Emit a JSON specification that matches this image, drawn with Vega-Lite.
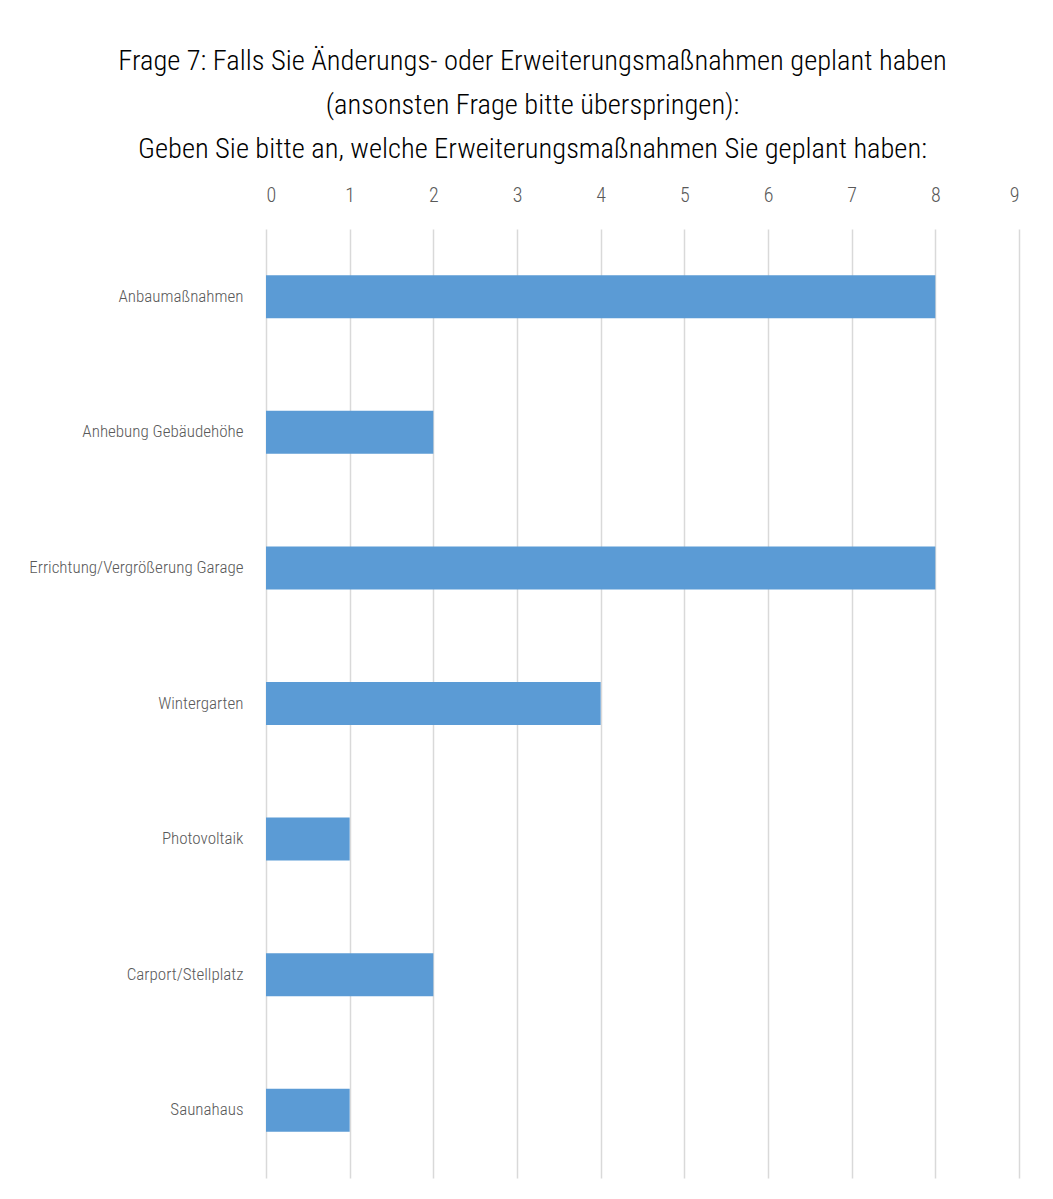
{
  "$schema": "https://vega.github.io/schema/vega-lite/v6.json",
  "autosize": "none",
  "width": 753,
  "height": 949,
  "padding": {"left": 266, "top": 229, "right": 34, "bottom": 21},
  "background": "white",
  "title": {
    "text": ["Frage 7: Falls Sie Änderungs- oder Erweiterungsmaßnahmen geplant haben", "(ansonsten Frage bitte überspringen):", "Geben Sie bitte an, welche Erweiterungsmaßnahmen Sie geplant haben:"],
    "font": "Roboto Condensed, DejaVu Sans Condensed, Liberation Sans Narrow, sans-serif",
    "fontSize": 28.5,
    "fontWeight": 300,
    "color": "#000000",
    "lineHeight": 44,
    "anchor": "middle",
    "dx": -110,
    "offset": 22
  },
  "data": {
    "values": [
      {"massnahme": "Anbaumaßnahmen", "anzahl": 8},
      {"massnahme": "Anhebung Gebäudehöhe", "anzahl": 2},
      {"massnahme": "Errichtung/Vergrößerung Garage", "anzahl": 8},
      {"massnahme": "Wintergarten", "anzahl": 4},
      {"massnahme": "Photovoltaik", "anzahl": 1},
      {"massnahme": "Carport/Stellplatz", "anzahl": 2},
      {"massnahme": "Saunahaus", "anzahl": 1}
    ]
  },
  "mark": {"type": "bar", "color": "#5b9bd5"},
  "encoding": {
    "y": {
      "field": "massnahme",
      "type": "nominal",
      "sort": null,
      "scale": {"paddingInner": 0.683, "paddingOuter": 0.3415},
      "axis": {
        "title": null,
        "ticks": false,
        "domain": false,
        "labelPadding": 23,
        "labelFont": "Roboto Condensed, DejaVu Sans Condensed, Liberation Sans Narrow, sans-serif",
        "labelFontSize": 17,
        "labelFontWeight": 300,
        "labelColor": "#595959",
        "labelLimit": 400
      }
    },
    "x": {
      "field": "anzahl",
      "type": "quantitative",
      "scale": {"domain": [0, 9], "nice": false},
      "axis": {
        "orient": "top",
        "title": null,
        "values": [0, 1, 2, 3, 4, 5, 6, 7, 8, 9],
        "labelOverlap": false,
        "ticks": false,
        "domain": false,
        "labelPadding": 24,
        "labelFont": "Roboto Condensed, DejaVu Sans Condensed, Liberation Sans Narrow, sans-serif",
        "labelFontSize": 20,
        "labelFontWeight": 300,
        "labelColor": "#595959",
        "grid": true,
        "gridColor": "#d9d9d9",
        "gridWidth": 1.5
      }
    }
  },
  "config": {"view": {"stroke": null}}
}
